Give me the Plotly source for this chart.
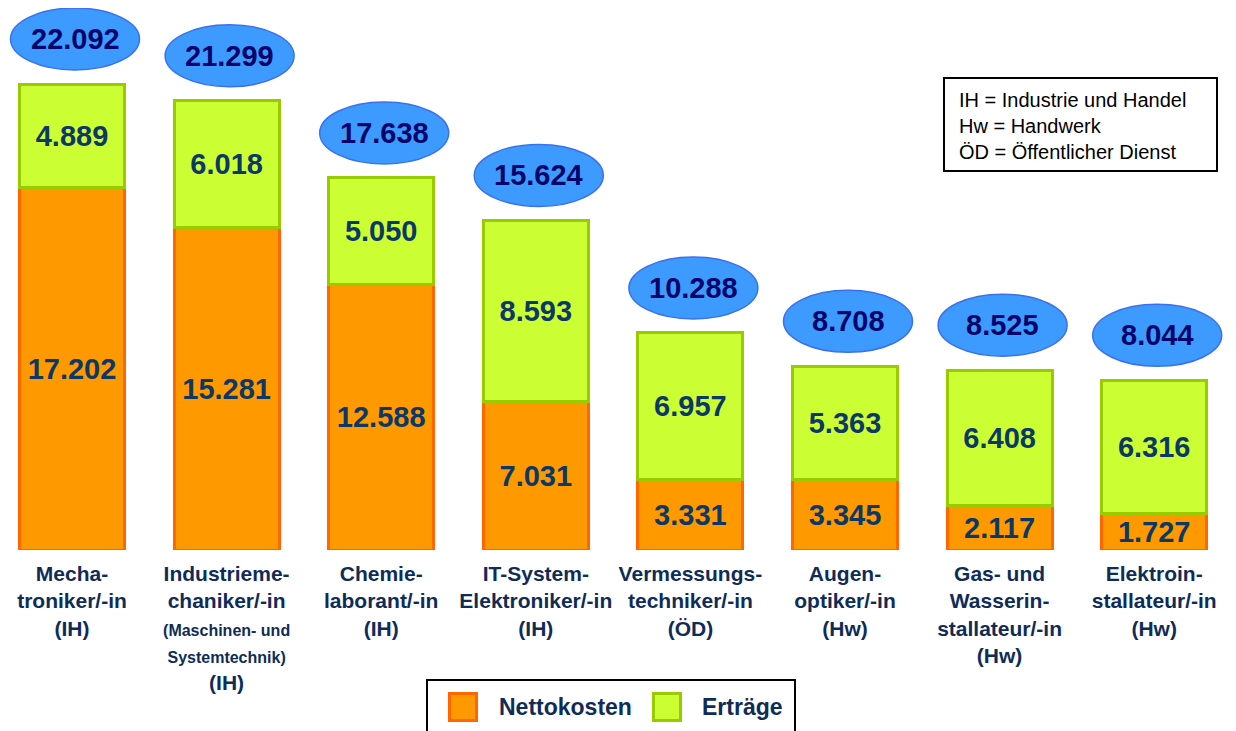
import plotly.graph_objects as go

# ---- data ----
categories = [
    "Mecha-<br>troniker/-in<br>(IH)",
    "Industrieme-<br>chaniker/-in<br><span style='font-size:16px'>(Maschinen- und</span><br><span style='font-size:16px'>Systemtechnik)</span><br>(IH)",
    "Chemie-<br>laborant/-in<br>(IH)",
    "IT-System-<br>Elektroniker/-in<br>(IH)",
    "Vermessungs-<br>techniker/-in<br>(ÖD)",
    "Augen-<br>optiker/-in<br>(Hw)",
    "Gas- und<br>Wasserin-<br>stallateur/-in<br>(Hw)",
    "Elektroin-<br>stallateur/-in<br>(Hw)",
]
nettokosten = [17202, 15281, 12588, 7031, 3331, 3345, 2117, 1727]
ertraege = [4889, 6018, 5050, 8593, 6957, 5363, 6408, 6316]
totals = [22092, 21299, 17638, 15624, 10288, 8708, 8525, 8044]
legend_note = ["IH = Industrie und Handel", "Hw = Handwerk", "ÖD = Öffentlicher Dienst"]

# page body has an 8px margin: figure drawn 8px right/down
OFF = 8
W, H = 1236 - OFF, 731 - OFF
PLOT_H = 550 - OFF
PX_PER_UNIT = 466 / 22092
Y_MAX = PLOT_H / PX_PER_UNIT
CAT_PX = 154.6
X0 = -(72 - OFF) / CAT_PX
X_RANGE = [X0, X0 + W / CAT_PX]

idx = list(range(len(categories)))
TEXT_COL = "#0c3868"
LABEL_COL = "#0f2c57"

fig = go.Figure()
fig.add_trace(go.Bar(
    x=idx, y=nettokosten, name="Nettokosten", width=0.68,
    marker=dict(color="#FF9900", line=dict(color="#FF6600", width=3)),
    texttemplate="%{y:,.0f}", textposition="inside", insidetextanchor="middle",
    constraintext="none",
    textfont=dict(family="Liberation Sans, Arial", size=29, color=TEXT_COL, weight="bold"),
    hoverinfo="skip",
))
fig.add_trace(go.Bar(
    x=idx, y=ertraege, name="Erträge", width=0.68,
    marker=dict(color="#CCFF33", line=dict(color="#99CC00", width=3)),
    texttemplate="%{y:,.0f}", textposition="inside", insidetextanchor="middle",
    constraintext="none",
    textfont=dict(family="Liberation Sans, Arial", size=29, color=TEXT_COL, weight="bold"),
    hoverinfo="skip",
))

units_per_px = 1 / PX_PER_UNIT
shapes = []
annotations = []
for i, t in enumerate(totals):
    cy = t + 45 * units_per_px
    cx = i + 3 / CAT_PX
    hh = 31 * units_per_px
    hw = 64.5 / CAT_PX
    shapes.append(dict(type="circle", xref="x", yref="y",
                       x0=cx - hw, x1=cx + hw, y0=cy - hh, y1=cy + hh,
                       fillcolor="#3D9BFF", line=dict(color="#3A70F0", width=1.5),
                       layer="above"))
    annotations.append(dict(x=cx, y=cy, xref="x", yref="y", showarrow=False,
                            text=f"{t:,}".replace(",", "."),
                            font=dict(family="Liberation Sans, Arial", size=29,
                                      color="#06066a", weight="bold")))


def py(p):
    return (PLOT_H - (p - OFF)) / PLOT_H


def px(p):
    return (p - OFF) / W


# IH note box
shapes.append(dict(type="rect", xref="paper", yref="paper",
                   x0=px(944), x1=px(1217), y0=py(171), y1=py(78),
                   line=dict(color="black", width=2), fillcolor="white"))
annotations.append(dict(xref="paper", yref="paper", x=px(957), y=py(126),
                        xanchor="left", yanchor="middle", align="left", showarrow=False,
                        text="<br>".join(legend_note),
                        font=dict(family="Liberation Sans, Arial", size=20, color="black")))

# custom legend
shapes.append(dict(type="rect", xref="paper", yref="paper",
                   x0=px(427), x1=px(795), y0=py(745), y1=py(680),
                   line=dict(color="black", width=2), fillcolor="white"))
legend_items = [("Nettokosten", "#FF9900", "#FF6600", 448, 497),
                ("Erträge", "#CCFF33", "#99CC00", 652, 700)]
for name, fc, lc, sx, tx in legend_items:
    shapes.append(dict(type="rect", xref="paper", yref="paper",
                       x0=px(sx + 1.5), x1=px(sx + 28.5), y0=py(720.5), y1=py(693.5),
                       line=dict(color=lc, width=3), fillcolor=fc))
    annotations.append(dict(xref="paper", yref="paper", x=px(tx), y=py(707),
                            xanchor="left", yanchor="middle", showarrow=False, text=name,
                            font=dict(family="Liberation Sans, Arial", size=23,
                                      color=LABEL_COL, weight="bold")))

fig.update_layout(
    width=W, height=H,
    margin=dict(l=0, r=0, t=0, b=H - PLOT_H, pad=0),
    barmode="stack",
    separators=",.",
    paper_bgcolor="white", plot_bgcolor="white",
    showlegend=False,
    shapes=shapes, annotations=annotations,
    xaxis=dict(range=X_RANGE, tickmode="array", tickvals=idx, ticktext=categories,
               showgrid=False, zeroline=False, showline=False, ticks="",
               tickangle=0, ticklabelstandoff=9,
               tickfont=dict(family="Liberation Sans, Arial", size=21, color=LABEL_COL,
                             weight="bold")),
    yaxis=dict(range=[0, Y_MAX], visible=False, showgrid=False, zeroline=False),
)

fig.write_html("out.html")
